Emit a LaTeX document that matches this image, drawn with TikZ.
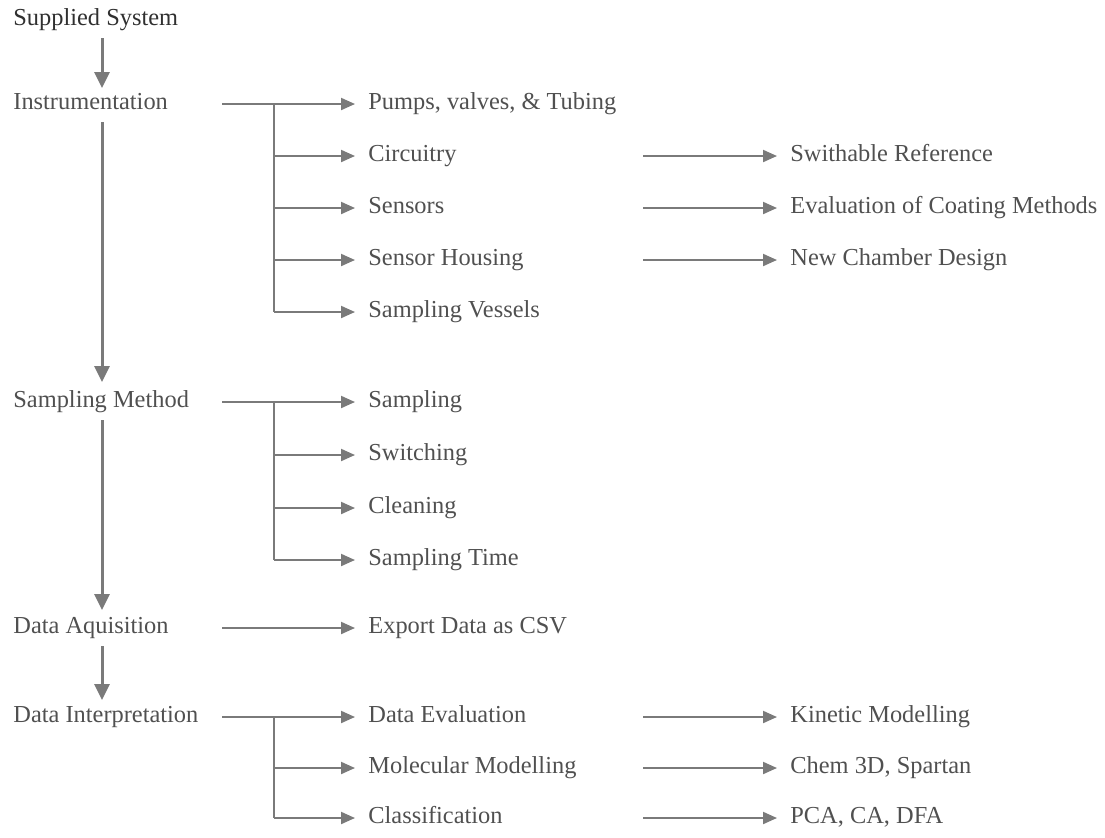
\documentclass[tikz,border=0pt]{standalone}
\usepackage{fontspec}
\setmainfont{Liberation Serif}
\usetikzlibrary{arrows.meta}
\definecolor{txt}{HTML}{505050}
\definecolor{txtdark}{HTML}{303030}
\definecolor{ln}{HTML}{7A7A7A}
\begin{document}
\begin{tikzpicture}[x=0.5pt,y=-0.5pt,
  lbl/.style={anchor=west,inner sep=0pt,text height=8pt,text depth=2.5pt,text=txt,font=\fontsize{12.2}{14}\selectfont},
  br/.style={draw=ln,line width=1pt},
  brarrow/.style={draw=ln,line width=1pt,-{Triangle[length=7pt,width=6pt]},shorten >=6.5pt},
  mainarrow/.style={draw=ln,line width=1.5pt,-{Triangle[length=8pt,width=7.5pt]}}]
\useasboundingbox (0,0) rectangle (1105,837);

% main column
\node[lbl,text=txtdark] (ss) at (13,20) {Supplied System};
\node[lbl] (ins) at (13,104) {Instrumentation};
\node[lbl] (sm) at (13,402) {Sampling Method};
\node[lbl] (da) at (13,628) {Data Aquisition};
\node[lbl] (di) at (13,717) {Data Interpretation};

\coordinate (m1a) at (102,38);  \coordinate (m1b) at (102,88);
\coordinate (m2a) at (102,122); \coordinate (m2b) at (102,382);
\coordinate (m3a) at (102,420); \coordinate (m3b) at (102,610);
\coordinate (m4a) at (102,646); \coordinate (m4b) at (102,700);
\draw[mainarrow] (m1a) -- (m1b);
\draw[mainarrow] (m2a) -- (m2b);
\draw[mainarrow] (m3a) -- (m3b);
\draw[mainarrow] (m4a) -- (m4b);

% Instrumentation branch
\coordinate (i0) at (222,104);
\coordinate (iv1) at (274,104);
\coordinate (iv2) at (274,156);
\coordinate (iv3) at (274,208);
\coordinate (iv4) at (274,260);
\coordinate (iv5) at (274,312);
\node[lbl] (pump) at (368,104) {Pumps, valves, \& Tubing};
\node[lbl] (circ) at (368,156) {Circuitry};
\node[lbl] (sens) at (368,208) {Sensors};
\node[lbl] (hous) at (368,260) {Sensor Housing};
\node[lbl] (vess) at (368,312) {Sampling Vessels};
\draw[brarrow] (i0) -- (pump.west);
\draw[br] (iv1) -- (iv5);
\draw[brarrow] (iv2) -- (circ.west);
\draw[brarrow] (iv3) -- (sens.west);
\draw[brarrow] (iv4) -- (hous.west);
\draw[brarrow] (iv5) -- (vess.west);

\coordinate (c2) at (643,156);
\coordinate (c3) at (643,208);
\coordinate (c4) at (643,260);
\node[lbl] (swr) at (790,156) {Swithable Reference};
\node[lbl] (eco) at (790,208) {Evaluation of Coating Methods};
\node[lbl] (ncd) at (790,260) {New Chamber Design};
\draw[brarrow] (c2) -- (swr.west);
\draw[brarrow] (c3) -- (eco.west);
\draw[brarrow] (c4) -- (ncd.west);

% Sampling Method branch
\coordinate (s0) at (222,402);
\coordinate (sv1) at (274,402);
\coordinate (sv2) at (274,455);
\coordinate (sv3) at (274,508);
\coordinate (sv4) at (274,560);
\node[lbl] (samp) at (368,402) {Sampling};
\node[lbl] (swit) at (368,455) {Switching};
\node[lbl] (clea) at (368,508) {Cleaning};
\node[lbl] (stim) at (368,560) {Sampling Time};
\draw[brarrow] (s0) -- (samp.west);
\draw[br] (sv1) -- (sv4);
\draw[brarrow] (sv2) -- (swit.west);
\draw[brarrow] (sv3) -- (clea.west);
\draw[brarrow] (sv4) -- (stim.west);

% Data Aquisition
\coordinate (d0) at (222,628);
\node[lbl] (csv) at (368,628) {Export Data as CSV};
\draw[brarrow] (d0) -- (csv.west);

% Data Interpretation branch
\coordinate (p0) at (222,717);
\coordinate (pv1) at (274,717);
\coordinate (pv2) at (274,768);
\coordinate (pv3) at (274,818);
\node[lbl] (deva) at (368,717) {Data Evaluation};
\node[lbl] (molm) at (368,768) {Molecular Modelling};
\node[lbl] (clas) at (368,818) {Classification};
\draw[brarrow] (p0) -- (deva.west);
\draw[br] (pv1) -- (pv3);
\draw[brarrow] (pv2) -- (molm.west);
\draw[brarrow] (pv3) -- (clas.west);

\coordinate (k1) at (643,717);
\coordinate (k2) at (643,768);
\coordinate (k3) at (643,818);
\node[lbl] (kin) at (790,717) {Kinetic Modelling};
\node[lbl] (chem) at (790,768) {Chem 3D, Spartan};
\node[lbl] (pca) at (790,818) {PCA, CA, DFA};
\draw[brarrow] (k1) -- (kin.west);
\draw[brarrow] (k2) -- (chem.west);
\draw[brarrow] (k3) -- (pca.west);
\end{tikzpicture}
\end{document}
